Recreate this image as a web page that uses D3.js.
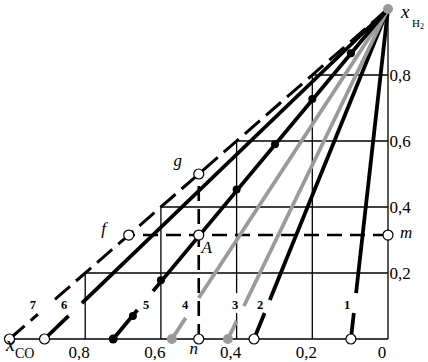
<!DOCTYPE html>
<html>
<head>
<meta charset="utf-8">
<script src="https://cdn.jsdelivr.net/npm/d3@7"></script>
<style>
  body { margin: 0; background: #fff; }
  svg { display: block; }
  svg text { font-family: "Liberation Serif", "Times New Roman", serif; }
</style>
</head>
<body>
<svg id="root" width="428" height="362"></svg>
<script>
//Chart data
const rayNames = ["1", "2", "3", "4", "5", "6", "7"];
const rayStartCO = [0.098, 0.354, 0.423, 0.571, 0.726, 0.9075, 1.0]; //x_CO where each ray leaves the bottom axis
const rayLabelCO = [0.108, 0.338, 0.404, 0.536, 0.639, 0.856, 0.938];
const rayLabelH2 = 0.103;
const dotsCO = [0.674, 0.6, 0.4, 0.2985, 0.2, 0.098]; //measured points on ray 5
const dotsH2 = [0.07, 0.178, 0.453, 0.59, 0.727, 0.866];
const gridValues = [0.2, 0.4, 0.6, 0.8];
const bottomTicks = [0.8, 0.6, 0.4, 0.2, 0];
const pointNames = ["A", "f", "g", "m", "n"];
const pointCO = [0.5, 0.685, 0.5, 0, 0.5];
const pointH2 = [0.315, 0.315, 0.5, 0.315, 0];

//Layout: breaks in the rays where the number labels sit (in x_H2)
const rayGaps = [[0.079, 0.139], [0.079, 0.118], [0.055, 0.100], [0.064, 0.124], [0.088, 0.145], [0.070, 0.109], [0.075, 0.12]];
const gridGap = { 0.4: [0.079, 0.139] };
const black = "#000", gray = "#9a9a9a";
const rayStyle = {
    "1": { color: black, dash: null, end: "open" },
    "2": { color: black, dash: null, end: "open" },
    "3": { color: gray, dash: null, end: "gray" },
    "4": { color: gray, dash: null, end: "gray" },
    "5": { color: black, dash: null, end: "black" },
    "6": { color: black, dash: null, end: "open" },
    "7": { color: black, dash: "20,8", end: "open" }
};
const pointLabelOffset = { A: [8, 18, "middle"], f: [-25, -1, "middle"], g: [-21, -8, "middle"], m: [12, 3, "start"], n: [-5, 15, "middle"] };

const svg = d3.select("#root");
const x = d3.scaleLinear().domain([1, 0]).range([9.5, 388]);
const y = d3.scaleLinear().domain([0, 1]).range([339, 9]);

//Draw a segment between two data points, optionally broken at x_H2 gap
function segment(g, c1, h1, c2, h2, gap) {
    const parts = [];
    if (gap) {
        const at = h => c1 + (c2 - c1) * (h - h1) / (h2 - h1);
        parts.push([c1, h1, at(gap[0]), gap[0]]);
        parts.push([at(gap[1]), gap[1], c2, h2]);
    } else {
        parts.push([c1, h1, c2, h2]);
    }
    parts.forEach(p => {
        g.append("line")
            .attr("x1", x(p[0])).attr("y1", y(p[1]))
            .attr("x2", x(p[2])).attr("y2", y(p[3]));
    });
    return g;
}

//Triangular grid
const grid = svg.append("g").attr("stroke", black).attr("stroke-width", 1.3);
gridValues.forEach(v => {
    segment(grid, v, 0, v, 1 - v, gridGap[v]);      //vertical
    segment(grid, 1 - v, v, 0, v, null);            //horizontal
});
segment(grid, 1, 0, 0, 0, null);  //bottom axis
segment(grid, 0, 0, 0, 1, null);  //right axis

//Dashed construction lines m-f and n-g
const construct = svg.append("g").attr("stroke", black).attr("stroke-width", 2.6).attr("stroke-dasharray", "15,8");
const iF = pointNames.indexOf("f"), iG = pointNames.indexOf("g"), iM = pointNames.indexOf("m"), iN = pointNames.indexOf("n");
segment(construct, pointCO[iM], pointH2[iM], pointCO[iF], pointH2[iF], null);
segment(construct, pointCO[iN], pointH2[iN], pointCO[iG], pointH2[iG], null);

//Rays from the apex (x_CO = 0, x_H2 = 1)
rayNames.forEach((name, i) => {
    const st = rayStyle[name];
    const g = svg.append("g")
        .attr("stroke", st.color)
        .attr("stroke-width", st.dash ? 3 : 3.8)
        .attr("stroke-dasharray", st.dash);
    segment(g, rayStartCO[i], 0, 0, 1, rayGaps[i]);
});

//Ray numbers
svg.append("g")
    .selectAll("text")
    .data(rayNames)
    .enter()
    .append("text")
    .attr("x", (d, i) => x(rayLabelCO[i]))
    .attr("y", y(rayLabelH2) + 4)
    .attr("text-anchor", "middle")
    .style("font-size", "12.5px")
    .style("font-weight", "bold")
    .text(d => d);

//Measured points on ray 5
svg.append("g")
    .selectAll("circle")
    .data(dotsCO)
    .enter()
    .append("circle")
    .attr("cx", d => x(d))
    .attr("cy", (d, i) => y(dotsH2[i]))
    .attr("r", 4)
    .attr("fill", black);

//Ray end markers on the bottom axis
svg.append("g")
    .selectAll("circle")
    .data(rayNames)
    .enter()
    .append("circle")
    .attr("cx", (d, i) => x(rayStartCO[i]))
    .attr("cy", y(0))
    .attr("r", d => rayStyle[d].end === "black" ? 4.5 : 5)
    .attr("fill", d => rayStyle[d].end === "open" ? "#fff" : rayStyle[d].end === "gray" ? gray : black)
    .attr("stroke", d => rayStyle[d].end === "open" ? black : "none")
    .attr("stroke-width", 1.2);

//Apex
svg.append("circle")
    .attr("cx", x(0)).attr("cy", y(1))
    .attr("r", 5)
    .attr("fill", gray);

//Construction points
svg.append("g")
    .selectAll("circle")
    .data(pointNames)
    .enter()
    .append("circle")
    .attr("cx", (d, i) => x(pointCO[i]))
    .attr("cy", (d, i) => y(pointH2[i]))
    .attr("r", 5)
    .attr("fill", "#fff")
    .attr("stroke", black)
    .attr("stroke-width", 1.2);

svg.append("g")
    .selectAll("text")
    .data(pointNames)
    .enter()
    .append("text")
    .attr("x", (d, i) => x(pointCO[i]) + pointLabelOffset[d][0])
    .attr("y", (d, i) => y(pointH2[i]) + pointLabelOffset[d][1])
    .attr("text-anchor", d => pointLabelOffset[d][2])
    .style("font-size", "17px")
    .style("font-style", "italic")
    .text(d => d);

//Tick labels
const fmt = d => String(d).replace(".", ",");
svg.append("g")
    .attr("class", "axis")
    .attr("transform", `translate(-6.5, ${y(0)})`)
    .call(d3.axisBottom(x).tickValues(bottomTicks).tickSize(0).tickPadding(7).tickFormat(fmt));
svg.append("g")
    .attr("class", "axis")
    .attr("transform", `translate(${x(0)}, 0)`)
    .call(d3.axisRight(y).tickValues(gridValues).tickSize(0).tickPadding(1.5).tickFormat(fmt));
svg.selectAll(".domain").remove();
svg.selectAll(".tick text")
    .attr("fill", black)
    .style("font-size", "17px");

//Axis titles
svg.append("text").attr("x", 6).attr("y", 351).style("font-size", "20px").style("font-style", "italic").text("x");
svg.append("text").attr("x", 15).attr("y", 358).style("font-size", "14px").text("CO");
svg.append("text").attr("x", 401).attr("y", 18).style("font-size", "19px").style("font-style", "italic").text("x");
svg.append("text").attr("x", 412).attr("y", 27).style("font-size", "11px").text("H");
svg.append("text").attr("x", 420).attr("y", 29).style("font-size", "8px").text("2");
</script>
</body>
</html>
